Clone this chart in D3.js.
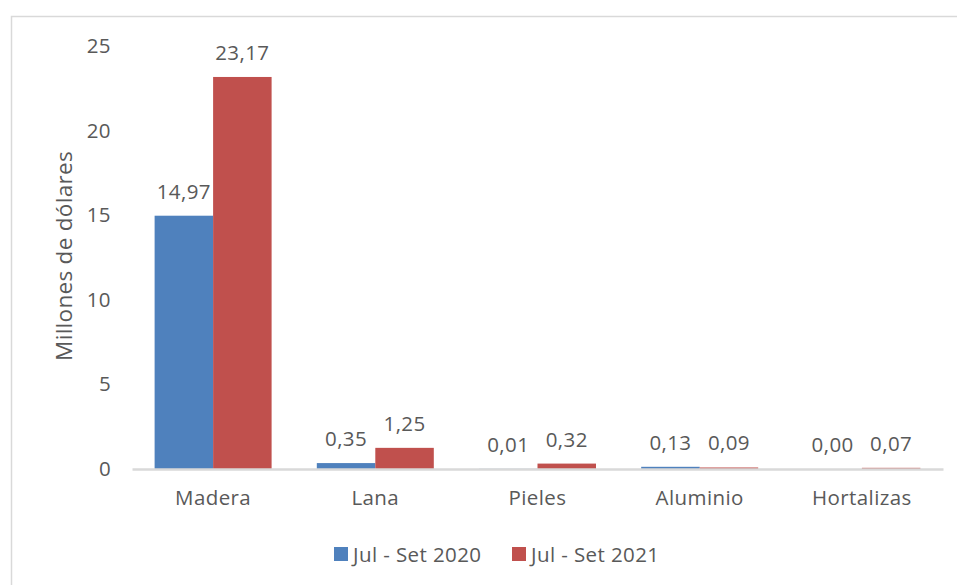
<!DOCTYPE html>
<html>
<head>
<meta charset="utf-8">
<script src="https://cdn.jsdelivr.net/npm/d3@7"></script>
<style>
  body { margin: 0; background: #fff; }
  text { font-family: "Open Sans", sans-serif; fill: #595959; }
</style>
</head>
<body>
<div id="chart"></div>
<script>
// data
var categories = ["Madera", "Lana", "Pieles", "Aluminio", "Hortalizas"];
var seriesNames = ["Jul - Set 2020", "Jul - Set 2021"];
var values2020 = [14.97, 0.35, 0.01, 0.13, 0.00];
var values2021 = [23.17, 1.25, 0.32, 0.09, 0.07];
var yTicks = [0, 5, 10, 15, 20, 25];
var colors = ["#4f81bd", "#c0504d"];

var width = 957,
  height = 585,
  fontSize = "20.5px";

var svg = d3.select("#chart").append("svg")
  .attr("width", width)
  .attr("height", height);

// outer chart frame (only top and left show in the crop)
svg.append("rect")
  .attr("x", 11.5)
  .attr("y", 16.5)
  .attr("width", 960)
  .attr("height", 600)
  .attr("fill", "none")
  .attr("stroke", "#d9d9d9")
  .attr("stroke-width", 1.5);

var plotLeft = 132, plotRight = 943, plotTop = 46, plotBottom = 469;

var x0 = d3.scaleBand()
  .domain(categories)
  .range([plotLeft, plotRight])
  .paddingInner(0.2787)
  .paddingOuter(0.1394);

var x1 = d3.scaleBand()
  .domain([0, 1])
  .range([0, x0.bandwidth()]);

var y = d3.scaleLinear()
  .domain([0, 25])
  .range([plotBottom, plotTop]);

// y axis labels
var yAxis = svg.append("g")
  .attr("transform", "translate(" + (plotLeft - 21) + ",0)")
  .call(d3.axisLeft(y).tickValues(yTicks).tickSize(0).tickPadding(0));
yAxis.select(".domain").remove();
yAxis.selectAll("text")
  .style("font-size", fontSize)
  .style("letter-spacing", "0.4px")
  .attr("fill", "#595959");

// bars
var rows = categories.map(function(c, i) {
  return { cat: c, vals: [values2020[i], values2021[i]] };
});

var groups = svg.selectAll("g.cat")
  .data(rows)
  .enter().append("g")
  .attr("class", "cat")
  .attr("transform", function(d) { return "translate(" + x0(d.cat) + ",0)"; });

groups.selectAll("rect")
  .data(function(d) { return d.vals; })
  .enter().append("rect")
  .attr("x", function(d, i) { return x1(i); })
  .attr("width", x1.bandwidth())
  .attr("y", function(d) { return y(d); })
  .attr("height", function(d) { return plotBottom - y(d); })
  .attr("fill", function(d, i) { return colors[i]; });

groups.selectAll("text.lbl")
  .data(function(d) { return d.vals; })
  .enter().append("text")
  .attr("class", "lbl")
  .attr("x", function(d, i) { return x1(i) + x1.bandwidth() / 2; })
  .attr("y", function(d) { return y(d) - 25; })
  .attr("text-anchor", "middle")
  .attr("dominant-baseline", "central")
  .style("font-size", fontSize)
  .style("letter-spacing", "0.4px")
  .text(function(d) { return d.toFixed(2).replace(".", ","); });

// x axis (drawn over the bars)
var xAxis = svg.append("g")
  .attr("transform", "translate(0," + plotBottom + ")")
  .call(d3.axisBottom(x0).tickSize(0).tickPadding(21));
xAxis.select(".domain")
  .attr("stroke", "#d9d9d9")
  .attr("stroke-width", 2.5);
xAxis.selectAll("text")
  .style("font-size", fontSize)
  .style("letter-spacing", "0.4px")
  .attr("fill", "#595959");

// y axis title
svg.append("text")
  .attr("transform", "translate(63," + 256 + ") rotate(-90)")
  .attr("text-anchor", "middle")
  .attr("dominant-baseline", "central")
  .style("font-size", "22.5px")
  .style("letter-spacing", "0.3px")
  .text("Millones de dólares");

// legend
var legendX = [334, 512];
var legend = svg.selectAll("g.legend")
  .data(seriesNames)
  .enter().append("g")
  .attr("class", "legend")
  .attr("transform", function(d, i) { return "translate(" + legendX[i] + ",554)"; });

legend.append("rect")
  .attr("x", 0)
  .attr("y", -7)
  .attr("width", 14)
  .attr("height", 14)
  .attr("fill", function(d, i) { return colors[i]; });

legend.append("text")
  .attr("x", 19)
  .attr("y", 0)
  .attr("dominant-baseline", "central")
  .style("font-size", fontSize)
  .style("letter-spacing", "0.4px")
  .text(function(d) { return d; });
</script>
</body>
</html>
